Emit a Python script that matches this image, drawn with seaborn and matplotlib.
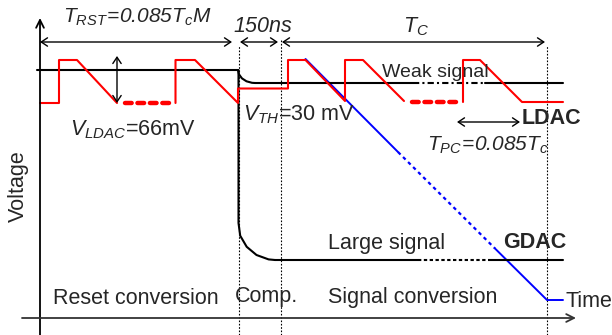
import matplotlib
matplotlib.use("Agg")
import matplotlib.pyplot as plt
import seaborn as sns

sns.set_theme(style="white")
plt.rcParams["font.family"] = ["Liberation Sans", "DejaVu Sans"]
plt.rcParams["mathtext.fontset"] = "custom"
plt.rcParams["mathtext.rm"] = "Liberation Sans"
plt.rcParams["mathtext.it"] = "Liberation Sans:italic"
plt.rcParams["mathtext.bf"] = "Liberation Sans:bold"
# fully italic face (digits included) for the timing formulas
plt.rcParams["mathtext.sf"] = "Liberation Sans:italic"

# ---- waveform data (time units, voltage units) ----
# comparator ramp reference (red)
ramp_a_t = [0, 19, 19, 37, 77]
ramp_a_v = [215, 215, 258, 258, 215]
ramp_gap1_t = [85, 133]
ramp_gap1_v = [215, 215]
ramp_b_t = [135.5, 135.5, 155, 198, 198, 248, 248, 265.5, 305, 305, 323, 364]
ramp_b_v = [215, 258, 258, 215, 229.5, 229.5, 258, 258, 217, 258, 258, 217]
ramp_gap2_t = [372, 418]
ramp_gap2_v = [216, 216]
ramp_c_t = [423, 423, 440, 482, 523]
ramp_c_v = [216, 258, 258, 216, 216]

# pixel output, reset level and weak signal (black)
reset_t = [-3, 198]
reset_v = [248, 248]
weak_curve_t = [198, 199, 202, 206.5, 212, 215]
weak_curve_v = [248, 243.6, 239.6, 236.7, 235.2, 235]
weak_a_t = [215, 373]
weak_b_t = [373, 445]
weak_c_t = [445, 523]
weak_level = 235

# pixel output, large signal (black)
large_drop_t = [198.5, 198.5, 200.2, 206.7, 216.5, 228.6, 235]
large_drop_v = [248, 95, 82.3, 71.2, 63, 58.6, 58]
large_a_t = [235, 378]
large_b_t = [378, 450]
large_c_t = [450, 523]
large_level = 58

# global ramp (blue)
gdac_a_t = [265.5, 358]
gdac_a_v = [259, 166]
gdac_b_t = [358, 455]
gdac_b_v = [166, 69.5]
gdac_c_t = [455, 507, 523]
gdac_c_v = [69.5, 18, 18]

# phase boundaries
boundaries = [198.5, 241, 507]

RED = "#ff0000"
BLUE = "#0000ff"
BLACK = "#000000"

fig = plt.figure(figsize=(6.12, 3.35), dpi=100)
ax = fig.add_axes([0, 0, 1, 1])
ax.set_xlim(-40, 572)
ax.set_ylim(-17, 318)
ax.axis("off")


def trace(t, v, color, lw, ls="-", **kw):
    sns.lineplot(x=t, y=v, sort=False, estimator=None, color=color,
                 lw=lw, linestyle=ls, ax=ax, legend=False, **kw)


# phase boundaries
for b in boundaries:
    top = 278 if b == 241 else 272
    trace([b, b], [-17, top], BLACK, 0.8, (0, (1.5, 1.5)))

# axes with arrows
ax.annotate("", xy=(0, 300), xytext=(0, -17),
            arrowprops=dict(arrowstyle="->", lw=1.3, color=BLACK,
                            mutation_scale=14, shrinkA=0, shrinkB=0))
ax.annotate("", xy=(536, 0), xytext=(-18, 0),
            arrowprops=dict(arrowstyle="->", lw=1.3, color="#333333",
                            mutation_scale=14, shrinkA=0, shrinkB=0))

# global ramp
trace(gdac_a_t, gdac_a_v, BLUE, 1.4)
trace(gdac_b_t, gdac_b_v, BLUE, 1.6, (0, (1.6, 1.6)))
trace(gdac_c_t, gdac_c_v, BLUE, 1.4)

# pixel output
trace(reset_t, reset_v, BLACK, 1.5)
trace(weak_curve_t, weak_curve_v, BLACK, 1.5)
trace(weak_a_t, [weak_level] * 2, BLACK, 1.5)
trace(weak_b_t, [weak_level] * 2, BLACK, 1.5, (0, (3, 1.5, 1, 1.5)))
trace(weak_c_t, [weak_level] * 2, BLACK, 1.5)
trace(large_drop_t, large_drop_v, BLACK, 1.5)
trace(large_a_t, [large_level] * 2, BLACK, 1.5)
trace(large_b_t, [large_level] * 2, BLACK, 1.5, (0, (1.6, 1.2)))
trace(large_c_t, [large_level] * 2, BLACK, 1.5)

# local ramp
trace(ramp_a_t, ramp_a_v, RED, 1.5)
trace(ramp_gap1_t, ramp_gap1_v, RED, 3.2, (0, (1.5, 1.3)), dash_capstyle="round")
trace(ramp_b_t, ramp_b_v, RED, 1.5)
trace(ramp_gap2_t, ramp_gap2_v, RED, 3.2, (0, (1.5, 1.3)), dash_capstyle="round")
trace(ramp_c_t, ramp_c_v, RED, 1.5)


def span(x0, y0, x1, y1):
    ax.annotate("", xy=(x1, y1), xytext=(x0, y0),
                arrowprops=dict(arrowstyle="<->,head_length=0.45,head_width=0.3",
                                lw=1.0, color=BLACK, mutation_scale=10,
                                shrinkA=0, shrinkB=0))


span(0, 276, 192, 276)
span(200, 276, 238, 276)
span(242, 276, 505, 276)
span(77, 262, 77, 215)
span(417, 196, 480, 196)

FS = 15.5
ax.text(23, 295, r"$\mathsf{T_{RST}\!=\!0.085T_cM}$", fontsize=15, va="baseline")
ax.text(193, 286, "150ns", fontsize=FS, style="italic", va="baseline")
ax.text(363, 286, r"$\mathsf{T_C}$", fontsize=FS, va="baseline")
ax.text(30, 183, r"$\mathsf{V_{LDAC}}$=66mV", fontsize=FS, va="baseline")
ax.text(203, 198, r"$\mathsf{V_{TH}}$=30 mV", fontsize=FS, va="baseline")
ax.text(342, 241, "Weak signal", fontsize=14, va="baseline")
ax.text(482, 194, "LDAC", fontsize=FS, weight="bold", va="baseline")
ax.text(387, 167, r"$\mathsf{T_{PC}\!=\!0.085T_c}$", fontsize=15, va="baseline")
ax.text(288, 69, "Large signal", fontsize=FS, va="baseline")
ax.text(463, 70, "GDAC", fontsize=FS, weight="bold", va="baseline")
ax.text(13, 14, "Reset conversion", fontsize=FS, va="baseline")
ax.text(195, 16, "Comp.", fontsize=FS, va="baseline")
ax.text(288, 15, "Signal conversion", fontsize=FS, va="baseline")
ax.text(525, 11, "Time", fontsize=FS, va="baseline")
ax.text(-22, 132, "Voltage", fontsize=FS, rotation=90, ha="center", va="center")

fig.savefig("out.png", dpi=100)
